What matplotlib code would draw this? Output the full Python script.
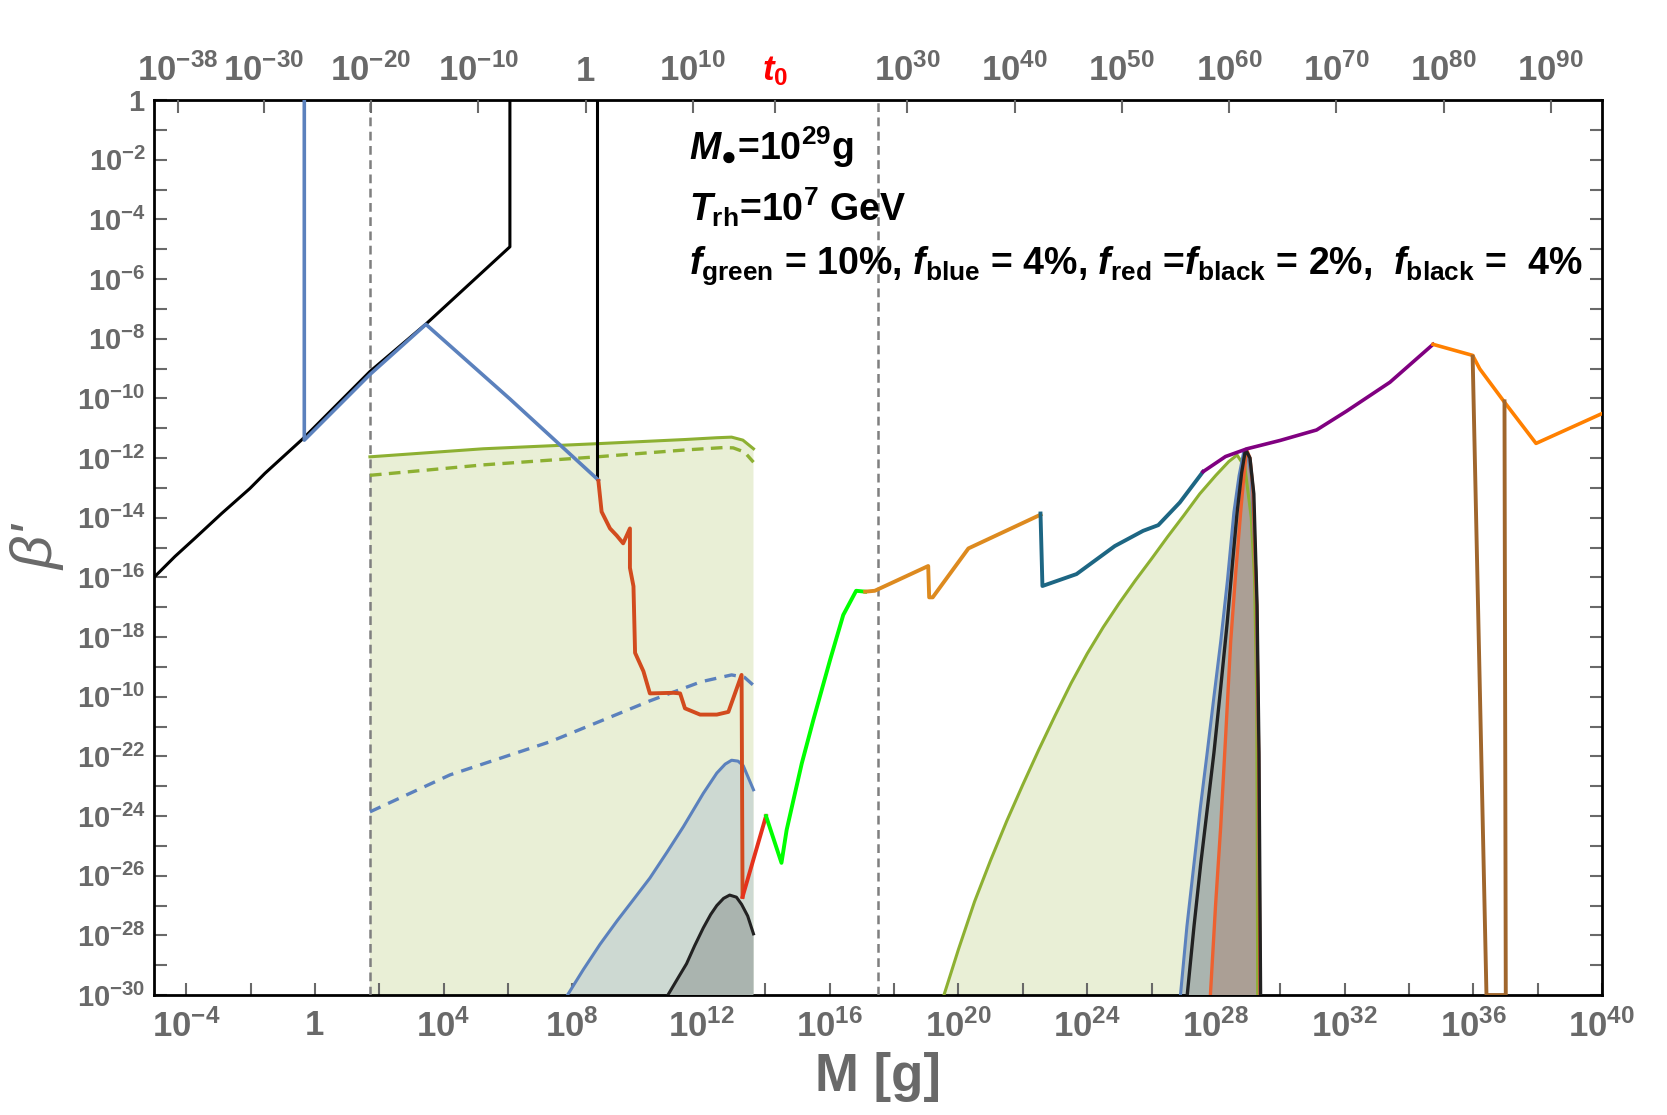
import numpy as np
import matplotlib
matplotlib.use("Agg")
import matplotlib.pyplot as plt
from matplotlib import font_manager
from matplotlib.ticker import FixedLocator, NullLocator, NullFormatter

# FONTS #######################################################################

names = {f.name for f in font_manager.fontManager.ttflist}
narrow = 'Liberation Sans Narrow' if 'Liberation Sans Narrow' in names else 'Liberation Sans'

plt.rcParams['mathtext.fontset'] = 'custom'
plt.rcParams['mathtext.rm'] = narrow + ':bold'
plt.rcParams['mathtext.it'] = narrow + ':bold:italic'
plt.rcParams['mathtext.bf'] = narrow + ':bold'
plt.rcParams['mathtext.sf'] = 'Liberation Sans:bold'

# DATA (log10 values) #########################################################

black_logM = [-5.0, -4.35, -3.73, -2.90, -2.02, -1.55, -0.36, 1.71, 3.47, 6.06, 6.06]
black_logb = [-16.0, -15.3, -14.69, -13.86, -13.02, -12.51, -11.34, -9.1, -7.49, -4.92, 0.0]

black2_logM = [8.76, 8.76]
black2_logb = [0.0, -12.7]

blue_logM = [-0.33, -0.33, 1.71, 3.45, 6.06, 8.81]
blue_logb = [0.0, -11.40, -9.2, -7.52, -10.02, -12.74]

red_logM = [8.81, 8.91, 9.17, 9.38, 9.58, 9.79, 9.79, 9.9, 9.95, 10.21, 10.41,
            11.14, 11.35, 11.5, 11.97, 12.49, 12.85, 13.26, 13.29]
red_logb = [-12.77, -13.8, -14.36, -14.6, -14.86, -14.36, -15.68, -16.3, -18.53, -19.15, -19.89,
            -19.87, -19.89, -20.39, -20.6, -20.6, -20.51, -19.27, -26.71]

red2_logM = [13.29, 14.02]
red2_logb = [-26.71, -24.0]

lime_logM = [14.02, 14.5, 14.66, 14.87, 15.13, 15.49, 16.01, 16.42, 16.82, 17.1]
lime_logb = [-24.0, -25.57, -24.47, -23.47, -22.24, -20.78, -18.77, -17.26, -16.45, -16.48]

orange1_logM = [17.1, 17.4, 19.06, 19.09, 19.2, 20.31, 22.55]
orange1_logb = [-16.48, -16.45, -15.62, -16.67, -16.67, -15.03, -13.9]

teal_logM = [22.55, 22.61, 23.67, 24.86, 25.74, 26.21, 26.88, 27.6]
teal_logb = [-13.86, -16.29, -15.89, -14.95, -14.44, -14.25, -13.49, -12.46]

purple_logM = [27.6, 28.3, 28.97, 30.0, 31.13, 32.06, 33.41, 34.75]
purple_logb = [-12.46, -11.95, -11.69, -11.41, -11.06, -10.43, -9.46, -8.19]

orange2_logM = [34.75, 35.98, 36.2, 36.95, 37.95, 40.0]
orange2_logb = [-8.19, -8.56, -9.01, -10.1, -11.51, -10.51]

brown_logM = [35.98, 36.41, 37.01, 36.97]
brown_logb = [-8.6, -30.0, -30.0, -10.1]

# left shaded region
green_logM = [1.71, 5.23, 8.76, 11.5, 12.49, 12.95, 13.3, 13.63]
green_logb = [-11.96, -11.69, -11.52, -11.38, -11.32, -11.3, -11.4, -11.69]
greend_logM = [1.71, 5.23, 8.76, 11.5, 12.69, 13.0, 13.35, 13.63]
greend_logb = [-12.58, -12.23, -11.96, -11.73, -11.65, -11.66, -11.8, -12.14]
blued_logM = [1.71, 4.2, 7.31, 10.41, 12.0, 12.95, 13.35, 13.63]
blued_logb = [-23.86, -22.62, -21.51, -20.14, -19.5, -19.27, -19.35, -19.62]
bluebell_logM = [7.85, 8.34, 8.86, 9.4, 9.9, 10.41, 10.95, 11.45, 12.07, 12.49, 12.75, 12.95, 13.15, 13.31, 13.63]
bluebell_logb = [-30.0, -29.15, -28.3, -27.5, -26.8, -26.08, -25.2, -24.36, -23.24, -22.56, -22.26, -22.13,
                 -22.16, -22.31, -23.12]
blackbell_logM = [10.97, 11.3, 11.55, 11.8, 12.07, 12.3, 12.49, 12.7, 12.89, 13.1, 13.26, 13.45, 13.63]
blackbell_logb = [-30.0, -29.4, -28.95, -28.35, -27.75, -27.3, -27.0, -26.76, -26.65, -26.72, -26.96,
                  -27.35, -27.95]

# right bells
rgreen_logM = [19.55, 20.0, 20.5, 21.0, 21.5, 22.0, 22.5, 23.0, 23.5, 24.0, 24.5, 25.0, 25.5, 26.0,
               26.5, 27.0, 27.5, 28.0, 28.4, 28.66, 28.9, 29.1, 29.2, 29.27, 29.3]
rgreen_logb = [-30.0, -28.47, -26.87, -25.48, -24.17, -22.95, -21.77, -20.64, -19.55, -18.56, -17.67,
               -16.86, -16.1, -15.38, -14.64, -13.93, -13.2, -12.58, -12.12, -11.9, -12.3, -14.0,
               -16.0, -20.0, -30.0]
rblue_logM = [26.9, 27.1, 27.32, 27.52, 27.73, 27.94, 28.15, 28.36, 28.56, 28.72, 28.87,
              29.0, 29.1, 29.25, 29.33, 29.37]
rblue_logb = [-30.0, -27.7, -25.6, -23.7, -21.88, -20.0, -18.16, -16.1, -13.82, -12.6, -11.77,
              -11.9, -12.6, -16.0, -22.0, -30.0]
rblack_logM = [27.11, 27.32, 27.53, 27.74, 27.94, 28.15, 28.35, 28.51, 28.66, 28.8, 28.92,
               29.06, 29.18, 29.28, 29.34, 29.39]
rblack_logb = [-30.0, -27.7, -25.6, -23.7, -21.88, -19.7, -17.54, -15.6, -13.82, -12.5, -11.71,
               -12.0, -13.2, -16.92, -21.88, -30.0]
rred_logM = [27.83, 27.99, 28.15, 28.31, 28.46, 28.62, 28.77, 28.88, 28.95, 29.06, 29.15, 29.27, 29.33, 29.37]
rred_logb = [-30.0, -27.0, -24.36, -21.2, -18.16, -15.8, -13.82, -12.5, -11.71, -12.0, -13.0, -17.0, -22.0, -30.0]

dashed_logM = [1.71, 17.49]

ytick_exp = list(range(0, -31, -2))
ytick_txt = ['1'] + ['-%d' % e for e in range(2, 31, 2)]
ytick_txt[10] = '-10'   # as printed on the original axis
xtick_exp = list(range(-4, 41, 4))
top_tick_log = [-38, -30, -20, -10, 0, 10, 17.64, 30, 40, 50, 60, 70, 80, 90]
top_tick_txt = ['$10^{-38}$', '$10^{-30}$', '$10^{-20}$', '$10^{-10}$', '1', '$10^{10}$', '$t_0$',
                '$10^{30}$', '$10^{40}$', '$10^{50}$', '$10^{60}$', '$10^{70}$', '$10^{80}$', '$10^{90}$']
T_SHIFT = 8.41   # log10 M where the top axis reads 1


def p(v):
    return 10.0 ** np.asarray(v, dtype=float)

# FIGURE ######################################################################

fig = plt.figure(figsize=(16.67, 11.15), dpi=100)
ax = fig.add_axes([0.0924, 0.1076, 0.8686, 0.8027])
ax.set_xscale('log')
ax.set_yscale('log')
ax.set_xlim(1e-5, 1e40)
ax.set_ylim(1e-30, 1)

# shaded regions
poly_M = np.concatenate([green_logM, [13.63, 1.71]])
poly_b = np.concatenate([green_logb, [-30, -30]])
ax.fill(p(poly_M), p(poly_b), color='#e9efd6', lw=0, zorder=1)
ax.fill(p(bluebell_logM + [13.63]), p(bluebell_logb + [-30]), color='#cdd9d2', lw=0, zorder=2)
ax.fill(p(blackbell_logM + [13.63]), p(blackbell_logb + [-30]), color='#aab4af', lw=0, zorder=3)

ax.fill(p(rgreen_logM), p(rgreen_logb), color='#e9efd6', lw=0, zorder=1)
ax.fill(p(rblue_logM), p(rblue_logb), color='#b6c4c2', lw=0, zorder=2)
ax.fill(p(rblack_logM), p(rblack_logb), color='#aab4af', lw=0, zorder=3)
ax.fill(p(rred_logM), p(rred_logb), color='#ab9f95', lw=0, zorder=4)

# dashed verticals
for m in dashed_logM:
    ax.axvline(10.0 ** m, color='#7f7f7f', lw=1.8, ls=(0, (3.5, 2.2)), zorder=5)

# left region curves
ax.plot(p(green_logM), p(green_logb), color='#8db032', lw=2.2, zorder=6)
ax.plot(p(greend_logM), p(greend_logb), color='#8db032', lw=2.4, ls=(0, (3.5, 2.2)), zorder=6)
ax.plot(p(blued_logM), p(blued_logb), color='#5b81bd', lw=2.4, ls=(0, (3.5, 2.5)), zorder=6)
ax.plot(p(bluebell_logM), p(bluebell_logb), color='#5b81bd', lw=2.2, zorder=6)
ax.plot(p(blackbell_logM), p(blackbell_logb), color='#222222', lw=2.2, zorder=6)

# constraint lines
ax.plot(p(black_logM), p(black_logb), color='black', lw=2.2, zorder=7)
ax.plot(p(black2_logM), p(black2_logb), color='black', lw=2.2, zorder=7)
ax.plot(p(blue_logM), p(blue_logb), color='#5b81bd', lw=2.6, zorder=8)
ax.plot(p(red_logM), p(red_logb), color='#d24b1e', lw=2.8, zorder=8)
ax.plot(p(red2_logM), p(red2_logb), color='#e5321b', lw=2.8, zorder=8)
ax.plot(p(lime_logM), p(lime_logb), color='#00ff00', lw=2.8, zorder=8)
ax.plot(p(orange1_logM), p(orange1_logb), color='#dd8a1f', lw=2.8, zorder=8)
ax.plot(p(teal_logM), p(teal_logb), color='#1d6683', lw=2.8, zorder=8)
ax.plot(p(purple_logM), p(purple_logb), color='#800080', lw=2.6, zorder=8)
ax.plot(p(orange2_logM), p(orange2_logb), color='#ff8000', lw=2.6, zorder=8)
ax.plot(p(brown_logM), p(brown_logb), color='#a0662c', lw=2.8, zorder=8)

# right bells outlines
ax.plot(p(rgreen_logM), p(rgreen_logb), color='#8db032', lw=2.2, zorder=6)
ax.plot(p(rblue_logM), p(rblue_logb), color='#5b81bd', lw=2.2, zorder=6)
ax.plot(p(rred_logM), p(rred_logb), color='#ee6130', lw=2.4, zorder=7)
ax.plot(p(rblack_logM), p(rblack_logb), color='#222222', lw=2.4, zorder=7)

# AXES ########################################################################

gray = '#696969'
ax.xaxis.set_major_locator(FixedLocator(p(xtick_exp)))
ax.xaxis.set_minor_locator(FixedLocator(p(list(range(-2, 40, 4)))))
ax.xaxis.set_minor_formatter(NullFormatter())
ax.set_xticklabels(['1' if e == 0 else '$10^{%d}$' % e for e in xtick_exp])

ax.yaxis.set_major_locator(FixedLocator(p(ytick_exp)))
ax.yaxis.set_minor_locator(FixedLocator(p(list(range(-29, 0, 2)))))
ax.yaxis.set_minor_formatter(NullFormatter())
ax.set_yticklabels(['$\\mathsf{1}$'] + ['$\\mathsf{10^{%s}}$' % t for t in ytick_txt[1:]])

ax.tick_params(axis='both', which='both', direction='in', color=gray, width=1.5, length=9)
ax.tick_params(axis='y', which='both', right=True, labelsize=21, labelcolor=gray, pad=6)
ax.tick_params(axis='x', which='both', top=False, labelsize=25, labelcolor=gray, pad=10)
for lbl in ax.get_xticklabels():
    lbl.set_fontfamily(narrow)
    lbl.set_fontweight('bold')
for lbl in ax.get_yticklabels():
    lbl.set_fontfamily('Liberation Sans')
    lbl.set_fontweight('bold')

for s in ax.spines.values():
    s.set_color('black')
    s.set_linewidth(2)

ax2 = ax.twiny()
ax2.set_xscale('log')
ax2.set_xlim(10.0 ** (3 * (-5 - T_SHIFT)), 10.0 ** (3 * (40 - T_SHIFT)))
ax2.xaxis.set_major_locator(FixedLocator(p(top_tick_log)))
ax2.xaxis.set_minor_locator(NullLocator())
ax2.set_xticklabels(top_tick_txt)
ax2.tick_params(axis='x', direction='in', color=gray, width=1.5, length=9,
                labelsize=25, labelcolor=gray, pad=9)
for lbl in ax2.get_xticklabels():
    lbl.set_fontfamily(narrow)
    lbl.set_fontweight('bold')
ax2.get_xticklabels()[6].set_color('red')
for s in ax2.spines.values():
    s.set_visible(False)

ax.set_xlabel('M [g]', fontsize=38, color=gray, fontfamily=narrow, fontweight='bold', labelpad=6)
ax.set_ylabel("β'", fontsize=42, color=gray, fontfamily='Liberation Sans', style='italic',
              labelpad=8)

# ANNOTATIONS #################################################################

txt = dict(transform=ax.transAxes, fontsize=27, fontfamily=narrow, fontweight='bold',
           ha='left', va='center', color='black', zorder=10)
ax.text(0.3695, 0.9475, '$M_{\u25cf}$=10$^{29}$g', **txt)
ax.text(0.3695, 0.880, r'$T_{\mathrm{rh}}$=10$^{7}$ GeV', **txt)
ax.text(0.3695, 0.8145,
        r'$f_{\mathrm{green}}$ = 10%, $f_{\mathrm{blue}}$ = 4%, $f_{\mathrm{red}}$ =$f_{\mathrm{black}}$ = 2%,  $f_{\mathrm{black}}$ =  4%',
        **txt)

plt.savefig('out.png', dpi=100)
